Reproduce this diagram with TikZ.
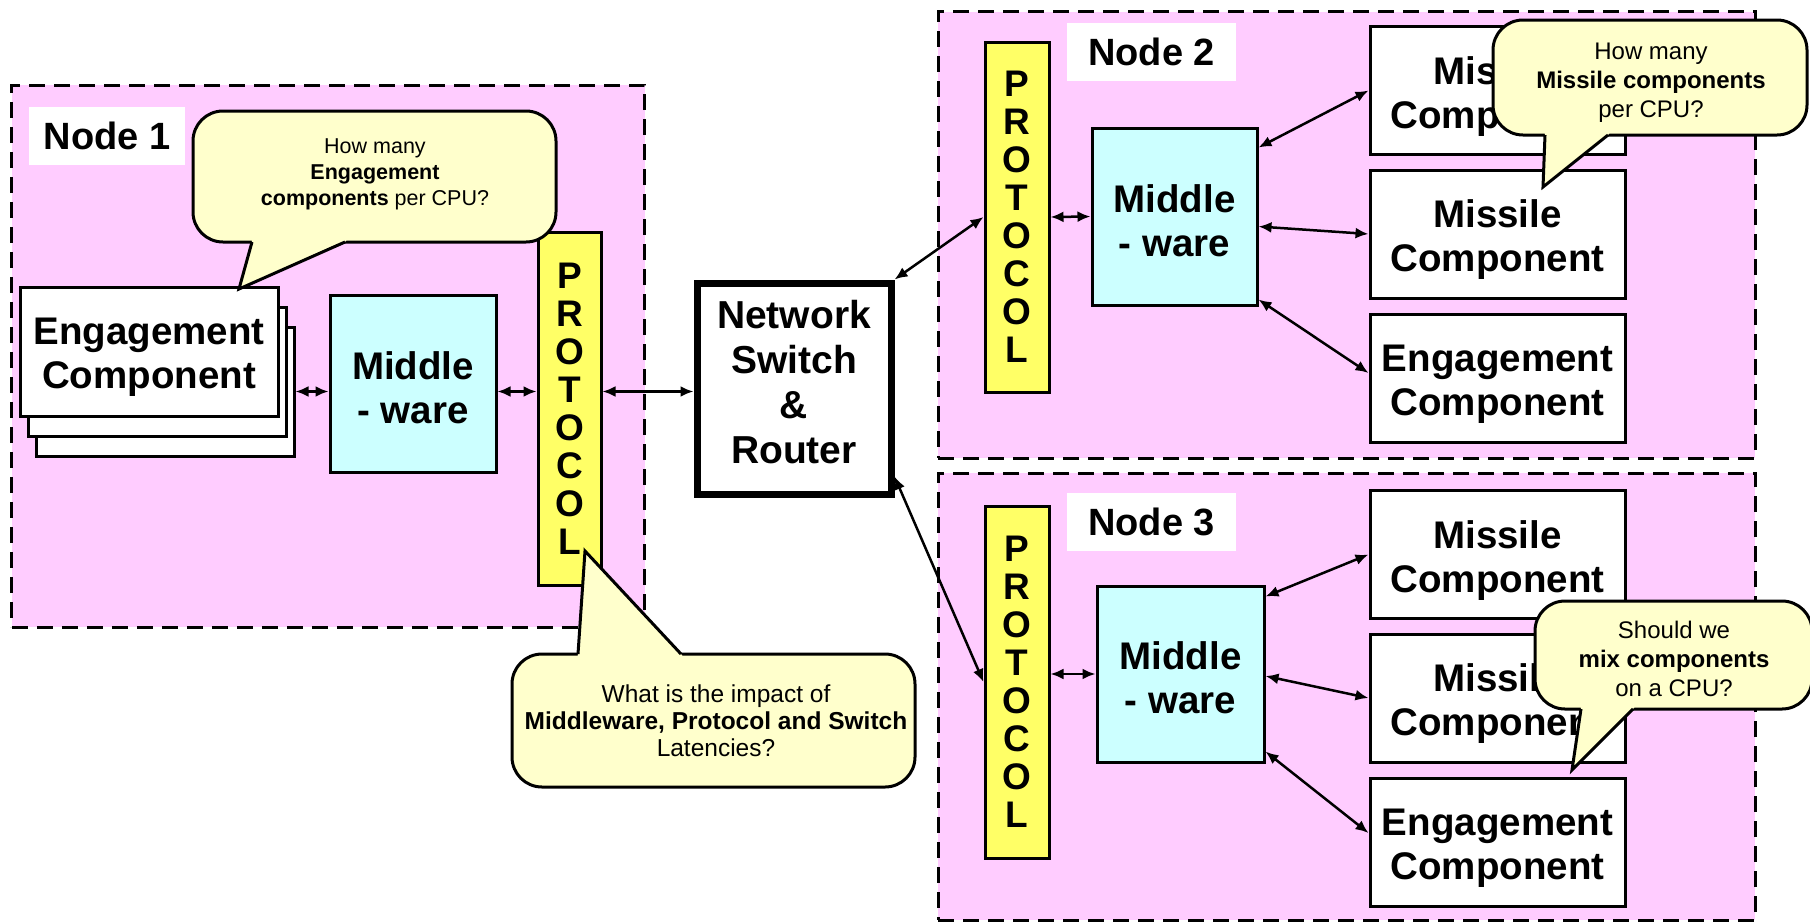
\documentclass[tikz,border=0pt]{standalone}
\usepackage{fontspec}
\setmainfont{Liberation Sans}
\usetikzlibrary{calc,arrows.meta}
\definecolor{nodepink}{HTML}{FFCCFF}
\definecolor{mwcyan}{HTML}{CCFFFF}
\definecolor{protoyellow}{HTML}{FFFF66}
\definecolor{callyellow}{HTML}{FFFFCC}
\newcommand{\bigtxt}{\fontsize{38.5}{44}\selectfont\bfseries}
\tikzset{
  region/.style={draw, dash pattern=on 16pt off 9pt, line width=3pt, fill=nodepink, inner sep=0pt},
  labelbox/.style={fill=white, inner sep=0pt, font=\fontsize{38}{40}\selectfont\bfseries},
  boxtext/.style={align=center, inner sep=0pt, font=\bigtxt},
  compbox/.style={draw, line width=3pt, fill=white, inner sep=0pt, minimum width=255pt, minimum height=128pt,
    label={[boxtext, yshift=-6pt]center:#1}},
  mwbox/.style={draw, line width=3pt, fill=mwcyan, inner sep=0pt,
    label={[boxtext, yshift=-4pt]center:Middle\\- ware}},
  protobox/.style={draw, line width=3pt, fill=protoyellow, inner sep=0pt, align=center, font=\fontsize{37}{38}\selectfont\bfseries, minimum width=64pt},
  switchbox/.style={draw, line width=7pt, fill=white, inner sep=0pt,
    label={[align=center, inner sep=0pt, font=\fontsize{39}{45}\selectfont\bfseries, yshift=6pt]center:Network\\Switch\\\&\\Router}},
  arr/.style={line width=2.5pt, {Latex[length=13pt,width=11pt]}-{Latex[length=13pt,width=11pt]}},
  callbody/.style={draw, line width=3pt, fill=callyellow, rounded corners=30pt, inner sep=0pt},
  tailline/.style={line width=3pt, line join=miter},
  calltext/.style={align=center, inner sep=0pt, font=\fontsize{24}{29}\selectfont}
}
\begin{document}
\begin{tikzpicture}[x=1pt,y=-1pt]
\useasboundingbox (0,0) rectangle (1810,922);
\fill[white] (0,0) rectangle (1810,922);

% regions
\node[region, minimum width=633pt, minimum height=542pt] (n1) at (328.25,356) {};
\node[region, minimum width=817pt, minimum height=446.5pt] (n2) at (1346.5,234.75) {};
\node[region, minimum width=817pt, minimum height=447pt] (n3) at (1346.5,696.5) {};

% labels
\node[labelbox, minimum width=156pt, minimum height=58pt] (l1) at (107,136) {Node 1};
\node[labelbox, minimum width=169pt, minimum height=58pt] (l2) at (1151.5,52) {Node 2};
\node[labelbox, minimum width=169pt, minimum height=58pt] (l3) at (1151.5,522) {Node 3};

% node 1
\node[draw, line width=3pt, fill=white, minimum width=258pt, minimum height=129pt] (e1c) at (165,391.5) {};
\node[draw, line width=3pt, fill=white, minimum width=258pt, minimum height=129pt] (e1b) at (157,371.5) {};
\node[compbox={Engagement\\Component}, minimum width=258pt, minimum height=129pt] (e1a) at (149,351.5) {};
\node[mwbox, minimum width=166pt, minimum height=177pt] (mw1) at (413,383.5) {};
\node[protobox, minimum width=63pt, minimum height=353pt] (p1) at (569.5,408.5) {P\\R\\O\\T\\O\\C\\O\\L};

% switch
\node[switchbox, minimum width=194pt, minimum height=211pt] (sw) at (794,388.5) {};

% node 2
\node[protobox, minimum height=350pt] (p2) at (1017,217) {P\\R\\O\\T\\O\\C\\O\\L};
\node[mwbox, minimum width=165pt, minimum height=177pt] (mw2) at (1174.5,216.5) {};
\node[compbox={Missile\\Component}] (m2a) at (1497.5,90.5) {};
\node[compbox={Missile\\Component}] (m2b) at (1497.5,234) {};
\node[compbox={Engagement\\Component}] (e2) at (1497.5,378) {};

% node 3
\node[protobox, minimum height=352pt] (p3) at (1017,682) {P\\R\\O\\T\\O\\C\\O\\L};
\node[mwbox, minimum width=167pt, minimum height=176pt] (mw3) at (1180.5,674) {};
\node[compbox={Missile\\Component}] (m3a) at (1497.5,554.5) {};
\node[compbox={Missile\\Component}] (m3b) at (1497.5,698) {};
\node[compbox={Engagement\\Component}] (e3) at (1497.5,842) {};

% connectors node 1
\draw[arr] (e1c.east) -- (e1c.east -| mw1.west);
\draw[arr] (e1c.east -| mw1.east) -- (e1c.east -| p1.west);
\draw[arr] (e1c.east -| p1.east) -- (e1c.east -| sw.west);
% switch to nodes
\draw[arr] (sw.north east) -- (p2.west);
\draw[arr] ($(sw.south east)+(0,-21)$) -- (p3.west);
% node 2
\draw[arr] (p2.east) -- (mw2.west);
\draw[arr] ($(mw2.north east)+(0,21)$) -- (m2a.west);
\draw[arr] ($(mw2.east)+(0,10)$) -- (m2b.west);
\draw[arr] ($(mw2.south east)+(0,-7)$) -- ($(e2.west)+(0,-5)$);
% node 3
\draw[arr] (p3.east |- mw3.west) -- (mw3.west);
\draw[arr] ($(mw3.north east)+(0,12)$) -- (m3a.west);
\draw[arr] ($(mw3.east)+(0,2)$) -- (m3b.west);
\draw[arr] ($(mw3.south east)+(0,-12)$) -- ($(e3.west)+(0,-9)$);

% callout 1
\node[callbody, minimum width=363pt, minimum height=131pt] (c1) at (374.5,176.5) {};
\fill[callyellow] (251,237) -- (252,242) -- (239,289) -- (345,242) -- (349,237) -- cycle;
\draw[tailline] (252,242) -- (239,289) -- (345,242);
\node[calltext, font=\fontsize{21.5}{26}\selectfont] (t1) at (375,174) {How many\\\textbf{Engagement}\\\textbf{components} per CPU?};

% callout 2 (latency)
\node[callbody, minimum width=403pt, minimum height=133pt] (c2) at (713.5,720.5) {};
\fill[callyellow] (577,659) -- (578,654) -- (585,551) -- (681,654) -- (685,659) -- cycle;
\draw[tailline] (578,654) -- (585,551) -- (681,654);
\node[calltext, font=\fontsize{24.5}{27}\selectfont] (t2) at (716,721) {What is the impact of\\\textbf{Middleware, Protocol and Switch}\\Latencies?};

% callout 3
\node[callbody, minimum width=314pt, minimum height=115pt] (c3) at (1650,77.5) {};
\fill[callyellow] (1544,130) -- (1545,135) -- (1543,187) -- (1608,135) -- (1612,130) -- cycle;
\draw[tailline] (1545,135) -- (1543,187) -- (1608,135);
\node[calltext] (t3) at (1651,83) {How many\\\textbf{Missile components}\\per CPU?};

% callout 4
\node[callbody, minimum width=277pt, minimum height=108pt] (c4) at (1673.5,655) {};
\fill[callyellow] (1580,704) -- (1581,709) -- (1572,770) -- (1633,709) -- (1637,704) -- cycle;
\draw[tailline] (1581,709) -- (1572,770) -- (1633,709);
\node[calltext] (t4) at (1674,659) {Should we\\\textbf{mix components}\\on a CPU?};
\end{tikzpicture}
\end{document}
